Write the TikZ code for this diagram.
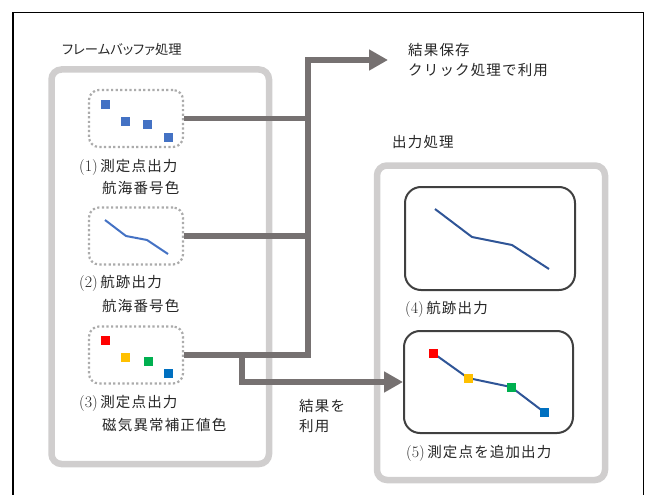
\documentclass[tikz,border=0pt]{standalone}
\usepackage{fontspec}
\newfontfamily\jp[LetterSpace=8]{Noto Sans CJK JP}
\newfontfamily\jpp[RawFeature=+palt]{Noto Sans CJK JP}
\newcommand\numlab[1]{{\fontsize{16}{17}\selectfont(#1)}\,}
\usetikzlibrary{arrows.meta}
\definecolor{conncol}{HTML}{767171}
\definecolor{grpcol}{HTML}{D0CECE}
\definecolor{dotcol}{HTML}{ABABAB}
\definecolor{boxcol}{HTML}{404040}
\definecolor{txtcol}{HTML}{262626}
\definecolor{bluesq}{HTML}{4472C4}
\definecolor{trkcol}{HTML}{2F5597}
\definecolor{redsq}{HTML}{FF0000}
\definecolor{yelsq}{HTML}{FFC000}
\definecolor{grnsq}{HTML}{00B050}
\definecolor{blusq}{HTML}{0070C0}
\tikzset{
  grp/.style={draw=grpcol, line width=6.5pt, rounded corners=10pt, inner sep=0},
  dotbox/.style={draw=dotcol, line width=2.2pt, dash pattern=on 2.2pt off 2.4pt, rounded corners=10pt, minimum width=94pt, minimum height=57pt, inner sep=0},
  outbox/.style={draw=boxcol, line width=2pt, rounded corners=16pt, inner sep=0},
  sq/.style={minimum size=9pt, inner sep=0, outer sep=0},
  trk/.style={line width=2pt},
  conn/.style={draw=conncol, line width=5.5pt},
  connarrow/.style={conn, -{Triangle[length=19pt,width=20pt]}},
  txt/.style={anchor=west, inner sep=0, text=txtcol, font=\fontsize{14.5}{17}\selectfont},
  ptxt/.style={anchor=west, inner sep=0, text=txtcol, font=\fontsize{13.3}{16}\selectfont\jpp}
}
\begin{document}
\begin{tikzpicture}[x=1pt,y=-1pt]
\useasboundingbox (0,0) rectangle (646,495);
% outer frame
\draw[line width=1.3pt] (13,495) -- (13,12.5) -- (643.5,12.5) -- (643.5,495);

% group boxes
\node[grp, minimum width=217.5pt, minimum height=394.5pt] (gleft) at (160.25,266.75) {};
\node[grp, minimum width=228pt, minimum height=314.5pt] (gright) at (491,322.75) {};

\node[ptxt] (lfb) at (62,49) {フレームバッファ処理};
\node[txt] (lout) at (392,142) {\jp 出力処理};

% dotted boxes
\node[dotbox] (b1) at (136,118.5) {};
\node[dotbox] (b2) at (136,236) {};
\node[dotbox] (b3) at (136,355) {};

% box 1 squares
\node[sq, fill=bluesq] (s11) at (105.5,104.5) {};
\node[sq, fill=bluesq] (s12) at (125.5,121.5) {};
\node[sq, fill=bluesq] (s13) at (147.5,124.5) {};
\node[sq, fill=bluesq] (s14) at (168.5,137.5) {};

% box 2 track
\draw[trk, draw=bluesq] (105,220) -- (126,236) -- (147,240) -- (168,254);

% box 3 squares
\node[sq, fill=redsq] (s31) at (105.5,340.5) {};
\node[sq, fill=yelsq] (s32) at (125.5,357) {};
\node[sq, fill=grnsq] (s33) at (148,361.5) {};
\node[sq, fill=blusq] (s34) at (168.5,373.5) {};

% labels left
\node[txt] (t1a) at (79,167) {\numlab{1}{\jp 測定点出力}};
\node[txt] (t1b) at (102,188) {\jp 航海番号色};
\node[txt] (t2a) at (79,283) {\numlab{2}{\jp 航跡出力}};
\node[txt] (t2b) at (102,306) {\jp 航海番号色};
\node[txt] (t3a) at (79,403) {\numlab{3}{\jp 測定点出力}};
\node[txt] (t3b) at (102,425) {\jp 磁気異常補正値色};

% output boxes
\node[outbox, minimum width=170pt, minimum height=103pt] (b4) at (490,238.5) {};
\node[outbox, minimum width=169pt, minimum height=102pt] (b5) at (488.5,382) {};

\draw[trk, draw=trkcol] (435,209) -- (472,237) -- (512,245) -- (549,269);

\coordinate (p51) at (433,353);
\coordinate (p52) at (468,378);
\coordinate (p53) at (511,387);
\coordinate (p54) at (544,412);
\draw[trk, draw=trkcol] (p51) -- (p52) -- (p53) -- (p54);
\node[sq, fill=redsq] (s51) at (p51) {};
\node[sq, fill=yelsq] (s52) at (p52) {};
\node[sq, fill=grnsq] (s53) at (p53) {};
\node[sq, fill=blusq] (s54) at (p54) {};

\node[txt] (t4) at (405,309) {\numlab{4}{\jp 航跡出力}};
\node[txt] (t5) at (406,453) {\numlab{5}{\jp 測定点を追加出力}};

% connectors
\coordinate (top) at (308,60);
\coordinate (out) at (388,60);
\coordinate (br) at (242,355);
\draw[conn] (b1.east) -- (b1.east -| top);
\draw[conn] (b2.east) -- (b2.east -| top);
\draw[connarrow] (b3.east) -| (top) -- (out);
\draw[connarrow] (br) |- (b5.west);

% connector labels
\node[txt] (r1) at (408,50) {\jp 結果保存};
\node[txt] (r2) at (408,70) {\jp クリック処理で利用};
\node[txt] (u1) at (299,406) {\jp 結果を};
\node[txt] (u2) at (299,426) {\jp 利用};
\end{tikzpicture}
\end{document}
